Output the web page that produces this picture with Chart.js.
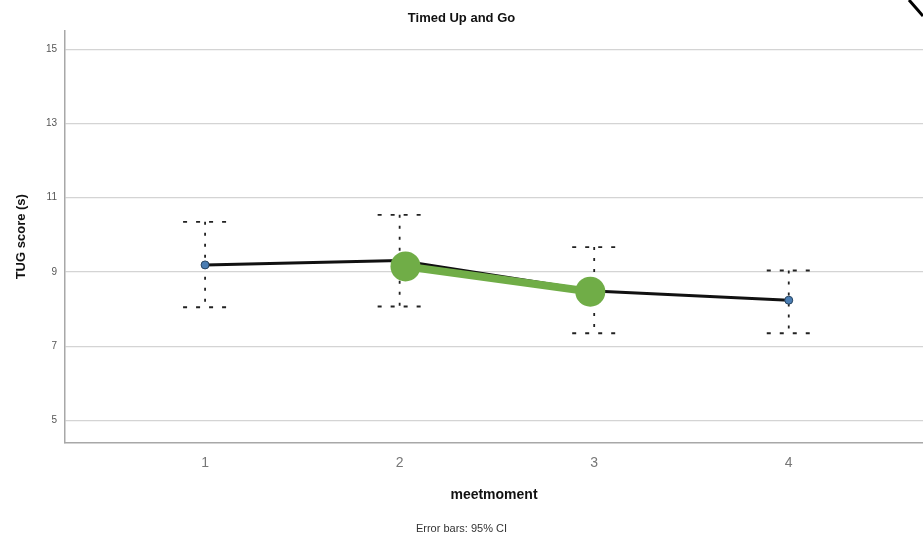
<!DOCTYPE html>
<html>
<head>
<meta charset="utf-8">
<title>Timed Up and Go</title>
<script src="https://cdn.jsdelivr.net/npm/chart.js@4.4.1/dist/chart.umd.min.js"></script>
<style>
  html, body { margin: 0; padding: 0; background: #fff; }
  #wrap { width: 923px; height: 539px; }
</style>
</head>
<body>
<div id="wrap"><canvas id="tugChart" width="923" height="539"></canvas></div>
<script>
// meetmoment categories and TUG means with 95% CI
const categories = [1, 2, 3, 4];
const meanTUG = [9.19, 9.31, 8.49, 8.24];
const ciUpper = [10.35, 10.54, 9.67, 9.04];
const ciLower = [8.05, 8.07, 7.35, 7.35];
// green highlighted segment drawn on top
const highlightX = [2.03, 2.98];
const highlightY = [9.15, 8.47];
const yTicks = [5, 7, 9, 11, 13, 15];

const FONT = "'Liberation Sans', Arial, sans-serif";

// error bars: dotted whiskers + dashed caps
const errorBars = {
    id: 'errorBars',
    beforeDatasetsDraw(chart) {
        const { ctx, scales: { x, y } } = chart;
        ctx.save();
        ctx.strokeStyle = '#222';
        ctx.lineWidth = 1.8;
        categories.forEach((c, i) => {
            const px = x.getPixelForValue(c);
            const top = y.getPixelForValue(ciUpper[i]);
            const bot = y.getPixelForValue(ciLower[i]);
            ctx.setLineDash([3, 8]);
            ctx.beginPath();
            ctx.moveTo(px, top);
            ctx.lineTo(px, bot);
            ctx.stroke();
            ctx.setLineDash([4, 9]);
            [top, bot].forEach(py => {
                ctx.beginPath();
                ctx.moveTo(px - 22, py);
                ctx.lineTo(px + 22, py);
                ctx.stroke();
            });
        });
        ctx.restore();
    },
    afterDraw(chart) {
        // stray stroke in the top right corner of the screenshot
        const { ctx, width } = chart;
        ctx.save();
        ctx.strokeStyle = '#000';
        ctx.lineWidth = 3;
        ctx.beginPath();
        ctx.moveTo(width - 14, 0);
        ctx.lineTo(width, 16);
        ctx.stroke();
        ctx.restore();
    }
};

const ctx = document.getElementById('tugChart').getContext('2d');
const tugChart = new Chart(ctx, {
    type: 'line',
    data: {
        datasets: [{
            label: 'highlight',
            data: highlightX.map((v, i) => ({ x: v, y: highlightY[i] })),
            borderColor: '#70AD47',
            backgroundColor: '#70AD47',
            borderWidth: 8,
            pointRadius: 15,
            pointBorderWidth: 0,
            order: 0
        }, {
            label: 'TUG score',
            data: categories.map((c, i) => ({ x: c, y: meanTUG[i] })),
            borderColor: '#111',
            borderWidth: 3,
            pointRadius: 4,
            pointBackgroundColor: '#4a7db3',
            pointBorderColor: '#26435f',
            pointBorderWidth: 1,
            order: 1
        }]
    },
    options: {
        responsive: false,
        animation: false,
        layout: { padding: 0, autoPadding: false },
        scales: {
            x: {
                type: 'linear',
                min: 0.28,
                max: 4.69,
                afterBuildTicks: scale => { scale.ticks = categories.map(v => ({ value: v })); },
                afterFit: scale => { scale.height = 80; },
                grid: { display: false },
                border: { display: true, color: '#a8a8a8', width: 1.5 },
                ticks: {
                    padding: 4,
                    color: '#777',
                    font: { family: FONT, size: 14 },
                    callback: v => String(v)
                },
                title: {
                    display: true,
                    text: 'meetmoment',
                    color: '#111',
                    font: { family: FONT, size: 14, weight: 'bold' },
                    padding: { top: 0, bottom: 19 }
                }
            },
            y: {
                min: 4.4,
                max: 15.5,
                afterBuildTicks: scale => { scale.ticks = yTicks.map(v => ({ value: v })); },
                afterFit: scale => { scale.width = 65; },
                grid: { color: '#d4d4d4', lineWidth: 1.2, drawTicks: false },
                border: { display: true, color: '#a8a8a8', width: 1.5 },
                ticks: {
                    padding: 8,
                    color: '#555',
                    font: { family: FONT, size: 10 }
                },
                title: {
                    display: true,
                    text: 'TUG score (s)',
                    color: '#111',
                    font: { family: FONT, size: 13, weight: 'bold' },
                    padding: { top: 14, bottom: 0 }
                }
            }
        },
        plugins: {
            legend: { display: false },
            tooltip: { enabled: false },
            title: {
                display: true,
                text: 'Timed Up and Go',
                color: '#111',
                font: { family: FONT, size: 13, weight: 'bold' },
                padding: { top: 11, bottom: 4 }
            },
            subtitle: {
                display: true,
                position: 'bottom',
                text: 'Error bars: 95% CI',
                color: '#333',
                font: { family: FONT, size: 11, weight: 'normal' },
                padding: { top: 0, bottom: 3 }
            }
        }
    },
    plugins: [errorBars]
});
</script>
</body>
</html>
